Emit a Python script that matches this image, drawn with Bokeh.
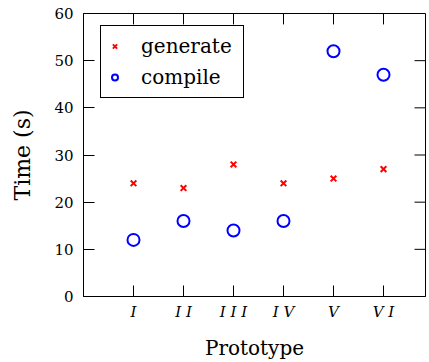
from bokeh.plotting import figure
from bokeh.models import Range1d, FixedTicker, Legend, LegendItem
from bokeh.embed import file_html
from bokeh.resources import INLINE

# ---- data ----
prototypes = ["I", "II", "III", "IV", "V", "VI"]
tick_labels = ["I", "I I", "I I I", "I V", "V", "V I"]
generate = [24, 23, 28, 24, 25, 27]
compile_times = [12, 16, 14, 16, 52, 47]
y_ticks = [0, 10, 20, 30, 40, 50, 60]

xs = list(range(1, len(prototypes) + 1))
FONT = "DejaVu Serif"

W, H = 429, 362
BL, BT, BR, BB = 83, 13, 4, 64
X_END = (W - BL - BR) / 50.0   # one category step = 50 px
Y_END = 60

p = figure(width=W, height=H, output_backend="svg", toolbar_location=None,
           x_range=Range1d(0, X_END), y_range=Range1d(0, Y_END),
           min_border_left=BL, min_border_top=BT, min_border_right=BR,
           min_border_bottom=BB)
p.background_fill_color = "white"
p.border_fill_color = "white"
p.outline_line_color = "black"
p.outline_line_width = 1
p.xgrid.visible = False
p.ygrid.visible = False

# mirrored tick marks on top and right edges (inward, like pgfplots)
TICK = 11
px_per_x = (W - BL - BR) / X_END
px_per_y = (H - BT - BB) / Y_END
p.segment(x0=xs, y0=[Y_END] * len(xs), x1=xs, y1=[Y_END - TICK / px_per_y] * len(xs),
          line_color="black", line_width=1)
p.segment(x0=[X_END] * len(y_ticks), y0=y_ticks, x1=[X_END - TICK / px_per_x] * len(y_ticks),
          y1=y_ticks, line_color="black", line_width=1)

r_gen = p.scatter(xs, generate, marker="x", size=8, line_color="red", line_width=2)
r_comp = p.scatter(xs, compile_times, marker="circle", size=12, fill_color=None,
                   line_color="blue", line_width=2)

# bottom axis
xa = p.xaxis[0]
xa.ticker = FixedTicker(ticks=xs)
xa.major_label_overrides = {x: lab for x, lab in zip(xs, tick_labels)}
xa.major_label_text_font = FONT
xa.major_label_text_font_style = "italic"
xa.major_label_text_font_size = "15px"
xa.major_label_text_color = "black"
xa.major_tick_in = TICK
xa.major_tick_out = 0
xa.minor_tick_line_color = None
xa.major_label_standoff = 6
xa.axis_label = "Prototype"
xa.axis_label_text_font = FONT
xa.axis_label_text_font_style = "normal"
xa.axis_label_text_font_size = "20px"
xa.axis_label_text_color = "black"
xa.axis_label_standoff = 12
xa.axis_line_color = "black"

# left axis
ya = p.yaxis[0]
ya.ticker = FixedTicker(ticks=y_ticks)
ya.major_label_text_font = FONT
ya.major_label_text_font_size = "15px"
ya.major_label_text_color = "black"
ya.major_tick_in = TICK
ya.major_tick_out = 0
ya.minor_tick_line_color = None
ya.major_label_standoff = 10
ya.axis_label = "Time (s)"
ya.axis_label_text_font = FONT
ya.axis_label_text_font_style = "normal"
ya.axis_label_text_font_size = "22px"
ya.axis_label_text_color = "black"
ya.axis_label_standoff = 16
ya.axis_line_color = "black"

legend = Legend(items=[LegendItem(label="generate", renderers=[r_gen]),
                       LegendItem(label="compile", renderers=[r_comp])],
                location=(17, 198))
legend.label_text_font = FONT
legend.label_text_font_size = "20px"
legend.label_text_color = "black"
legend.border_line_color = "black"
legend.border_line_alpha = 1
legend.border_line_width = 1
legend.background_fill_alpha = 1
legend.padding = 6
legend.spacing = 3
legend.label_height = 28
legend.label_width = 96
legend.glyph_height = 20
legend.glyph_width = 15
legend.label_standoff = 19
legend.margin = 0
p.add_layout(legend, "center")

open("out.html", "w").write(file_html(p, INLINE))
